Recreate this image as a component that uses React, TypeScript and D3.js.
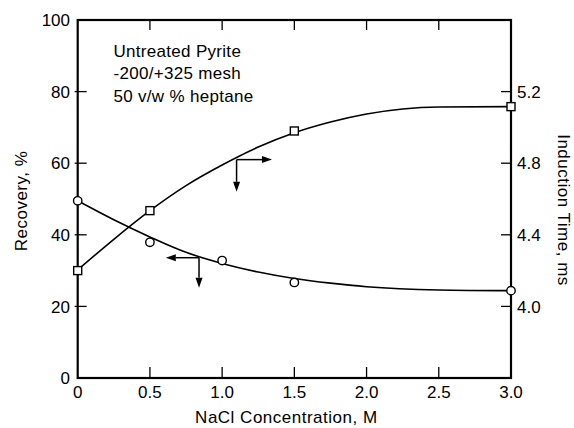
import React from "react";
import * as d3 from "d3";

// ---- data ----
const nacl = [0, 0.5, 1.0, 1.5, 3.0];
const recovery = [49.5, 37.9, 32.8, 26.7, 24.4]; // %, left axis (circles)
const nacl2 = [0, 0.5, 1.5, 3.0];
const inductionTime = [4.2, 4.535, 4.98, 5.116]; // ms, right axis (squares)

// fitted curves as drawn in the reference
const recCurveX = [0, 0.25, 0.5, 0.75, 1.0, 1.25, 1.5, 1.75, 2.0, 2.5, 3.0];
const recCurveY = [49.5, 44.2, 39.4, 35.1, 32.0, 29.6, 27.8, 26.5, 25.5, 24.6, 24.4];
const indCurveX = [0, 0.25, 0.5, 0.75, 1.0, 1.25, 1.5, 1.75, 2.0, 2.25, 2.5, 3.0];
const indCurveY = [4.204, 4.375, 4.535, 4.675, 4.79, 4.89, 4.97, 5.03, 5.075, 5.103, 5.114, 5.116];

const xTicks = [0, 0.5, 1.0, 1.5, 2.0, 2.5, 3.0];
const xTickLabels = ["0", "0.5", "1.0", "1.5", "2.0", "2.5", "3.0"];
const yLTicks = [0, 20, 40, 60, 80, 100];
const yLTickLabels = ["0", "20", "40", "60", "80", "100"];
const yRTicks = [4.0, 4.4, 4.8, 5.2];
const yRTickLabels = ["4.0", "4.4", "4.8", "5.2"];

const noteLines = ["Untreated Pyrite", "-200/+325 mesh", "50 v/w % heptane"];

// arrows: [originX, originY(% scale), horizontalEndX, verticalEndY(% scale)]
const arrowInduction = [1.1, 61, 1.345, 52];
const arrowRecovery = [0.84, 33.6, 0.61, 25.2];

const W = 574;
const H = 428;
const FONT = "'Liberation Sans', Arial, sans-serif";

export default function App() {
  const left = 77.7, right = 511, top = 20, bottom = 378;
  const x = d3.scaleLinear().domain([0, 3]).range([left, right]);
  const yL = d3.scaleLinear().domain([0, 100]).range([bottom, top]);
  const yR = d3.scaleLinear().domain([3.6, 5.6]).range([bottom, top]);

  const recLine = d3
    .line<number>()
    .x((_, i) => x(recCurveX[i]))
    .y((d) => yL(d))
    .curve(d3.curveMonotoneX);
  const indLine = d3
    .line<number>()
    .x((_, i) => x(indCurveX[i]))
    .y((d) => yR(d))
    .curve(d3.curveMonotoneX);

  const arrow = (a: number[], dir: "right" | "left", key: string) => {
    const ox = x(a[0]), oy = yL(a[1]), hx = x(a[2]), vy = yL(a[3]);
    const s = dir === "right" ? 1 : -1;
    const hl = 10, hw = 3.5;
    return (
      <g key={key}>
        <line x1={ox} y1={oy} x2={hx - s * hl} y2={oy} stroke="#000" strokeWidth={1.5} />
        <path d={`M${hx},${oy} L${hx - s * hl},${oy - hw} L${hx - s * hl},${oy + hw} Z`} fill="#000" />
        <line x1={ox} y1={oy} x2={ox} y2={vy - hl} stroke="#000" strokeWidth={1.5} />
        <path d={`M${ox},${vy} L${ox - hw},${vy - hl} L${ox + hw},${vy - hl} Z`} fill="#000" />
      </g>
    );
  };

  return (
    <svg
      width={W}
      height={H}
      viewBox={`0 0 ${W} ${H}`}
      style={{ position: "absolute", left: 0, top: 0, background: "#fff" }}
      fontFamily={FONT}
    >
      <rect x={0} y={0} width={W} height={H} fill="#fff" />

      {/* curves */}
      <path d={recLine(recCurveY) || ""} fill="none" stroke="#000" strokeWidth={1.6} />
      <path d={indLine(indCurveY) || ""} fill="none" stroke="#000" strokeWidth={1.6} />

      {/* frame */}
      <rect x={left} y={top} width={right - left} height={bottom - top} fill="none" stroke="#000" strokeWidth={2.2} />

      {/* x ticks top & bottom (inward) */}
      {xTicks.slice(1, -1).map((t) => (
        <g key={"xt" + t}>
          <line x1={x(t)} x2={x(t)} y1={bottom} y2={bottom - 11} stroke="#000" strokeWidth={1.3} />
          <line x1={x(t)} x2={x(t)} y1={top} y2={top + 10} stroke="#000" strokeWidth={1.3} />
        </g>
      ))}
      {xTicks.map((t, i) => (
        <text key={"xl" + t} x={x(t)} y={398} fontSize={17} textAnchor="middle">
          {xTickLabels[i]}
        </text>
      ))}

      {/* left ticks */}
      {yLTicks.slice(1, -1).map((t) => (
        <line key={"ylt" + t} x1={left - 3} x2={left + 9} y1={yL(t)} y2={yL(t)} stroke="#000" strokeWidth={1.3} />
      ))}
      {yLTicks.map((t, i) => (
        <text key={"yll" + t} x={70} y={yL(t)} dy="0.36em" fontSize={17} textAnchor="end">
          {yLTickLabels[i]}
        </text>
      ))}

      {/* right ticks */}
      {yRTicks.map((t) => (
        <line key={"yrt" + t} x1={right - 10} x2={right + 1} y1={yR(t)} y2={yR(t)} stroke="#000" strokeWidth={1.3} />
      ))}
      {yRTicks.map((t, i) => (
        <text key={"yrl" + t} x={517} y={yR(t)} dy="0.36em" fontSize={17} textAnchor="start">
          {yRTickLabels[i]}
        </text>
      ))}

      {/* markers */}
      {nacl.map((n, i) => (
        <circle key={"c" + i} cx={x(n)} cy={yL(recovery[i])} r={4.2} fill="#fff" stroke="#000" strokeWidth={1.4} />
      ))}
      {nacl2.map((n, i) => (
        <rect
          key={"s" + i}
          x={x(n) - 4}
          y={yR(inductionTime[i]) - 4}
          width={8}
          height={8}
          fill="#fff"
          stroke="#000"
          strokeWidth={1.4}
        />
      ))}

      {/* arrows */}
      {arrow(arrowInduction, "right", "a1")}
      {arrow(arrowRecovery, "left", "a2")}

      {/* annotation */}
      {noteLines.map((l, i) => (
        <text key={"n" + i} x={113.5} y={56.5 + i * 22.6} fontSize={17} letterSpacing={0.3}>
          {l}
        </text>
      ))}

      {/* axis titles */}
      <text x={(left + right) / 2 - 8} y={423} fontSize={17} letterSpacing={0.5} textAnchor="middle">
        NaCl Concentration, M
      </text>
      <text
        transform={`translate(27, 201) rotate(-90)`}
        fontSize={17}
        letterSpacing={0.5}
        textAnchor="middle"
      >
        Recovery, %
      </text>
      <text
        transform={`translate(558, 210) rotate(90)`}
        fontSize={17}
        letterSpacing={0.5}
        textAnchor="middle"
      >
        Induction Time, ms
      </text>
    </svg>
  );
}
